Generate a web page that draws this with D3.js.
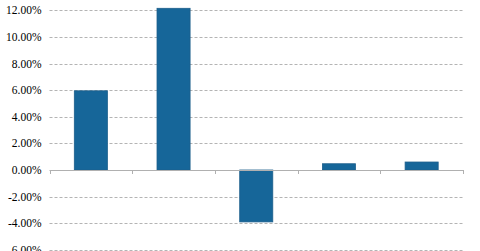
<!DOCTYPE html>
<html lang="en">
<head>
<meta charset="utf-8">
<style>
body { margin: 0; background: #fff; }
.grid line { stroke: #b4b4b4; stroke-dasharray: 3,2; }
</style>
</head>
<body>
<svg width="480" height="251"></svg>
<script src="https://d3js.org/d3.v7.min.js"></script>
<script>
var categories = ["A", "B", "C", "D", "E"];
var values = [5.95, 12.15, -3.9, 0.47, 0.6];
var yTicks = [-6, -4, -2, 0, 2, 4, 6, 8, 10, 12];

var svg = d3.select("svg"),
    margin = {left: 49.5, right: 17, top: 10.3, zero: 170};

var x = d3.scaleBand()
    .domain(categories)
    .range([margin.left, 480 - margin.right])
    .paddingInner(0.6)
    .paddingOuter(0.3);

var y = d3.scaleLinear()
    .domain([0, 12])
    .range([margin.zero, margin.top]);

// dashed gridlines
svg.append("g").attr("class", "grid")
  .selectAll("line")
  .data(yTicks.filter(function(d) { return d !== 0; }))
  .enter().append("line")
    .attr("x1", margin.left)
    .attr("x2", 480 - margin.right)
    .attr("y1", function(d) { return Math.round(y(d)) + 0.5; })
    .attr("y2", function(d) { return Math.round(y(d)) + 0.5; });

// y labels
svg.append("g")
    .attr("font-family", "'Liberation Serif', 'Times New Roman', serif")
    .attr("font-size", 11.5)
    .attr("fill", "#000")
  .selectAll("text")
  .data(yTicks)
  .enter().append("text")
    .attr("x", 41.5)
    .attr("y", function(d) { return y(d); })
    .attr("dy", "0.35em")
    .attr("text-anchor", "end")
    .text(function(d) { return d.toFixed(2) + "%"; });

// bars
svg.append("g")
  .selectAll("rect")
  .data(values)
  .enter().append("rect")
    .attr("x", function(d, i) { return x(categories[i]); })
    .attr("width", x.bandwidth())
    .attr("y", function(d) { return y(Math.max(0, d)); })
    .attr("height", function(d) { return Math.abs(y(d) - y(0)); })
    .attr("fill", "#166699")
    .attr("stroke", "#1d5f8c")
    .attr("stroke-width", 0.8);

// zero axis
var bounds = d3.range(categories.length + 1).map(function(i) {
  return margin.left + i * (480 - margin.right - margin.left) / categories.length;
});
svg.append("line")
    .attr("x1", margin.left).attr("x2", 480 - margin.right)
    .attr("y1", y(0) + 0.5).attr("y2", y(0) + 0.5)
    .attr("stroke", "#b0b0b0");
svg.append("g")
  .selectAll("line")
  .data(bounds)
  .enter().append("line")
    .attr("x1", function(d) { return Math.round(d) + 0.5; })
    .attr("x2", function(d) { return Math.round(d) + 0.5; })
    .attr("y1", y(0))
    .attr("y2", y(0) + 4)
    .attr("stroke", "#b0b0b0");
</script>
</body>
</html>
